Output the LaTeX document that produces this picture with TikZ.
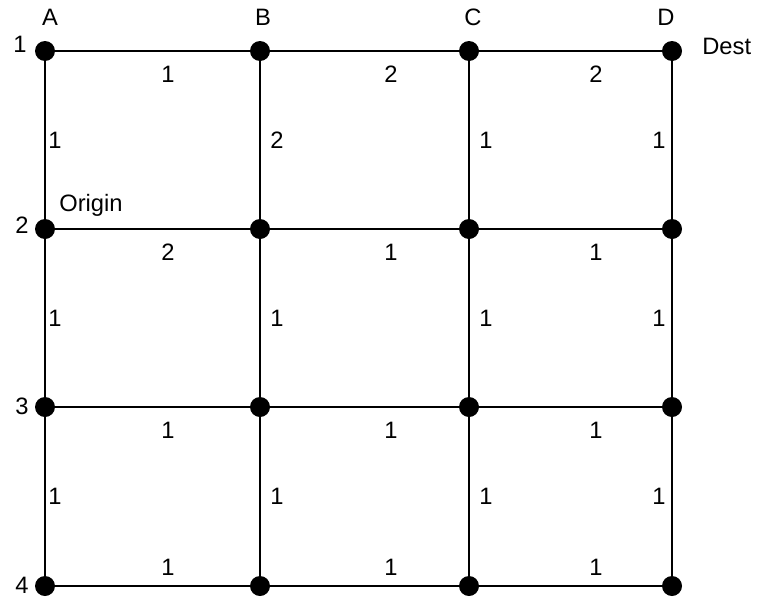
\documentclass[tikz,border=0pt]{standalone}
\usepackage{fontspec}
\setmainfont{Liberation Sans}
\usetikzlibrary{positioning}

\begin{document}
\begin{tikzpicture}[
    x=0.02cm, y=-0.02cm,
    font=\fontsize{13.5}{15}\selectfont,
    dot/.style={circle, fill=black, inner sep=0pt, minimum size=0.4cm},
    edge/.style={draw=black, line width=1.1pt},
    wb/.style={yshift=-0.46cm},
    wa/.style={yshift=0.38cm},
    wr/.style={xshift=0.34cm},
    wl/.style={xshift=-0.26cm},
    tag/.style={inner sep=0pt, anchor=base}
]
    \useasboundingbox (0,0) rectangle (757,599);

    \node [dot] (A1) at (45,51) {};
    \node [dot] (B1) at (260,51) {};
    \node [dot] (C1) at (469,51) {};
    \node [dot] (D1) at (672,51) {};
    \node [dot] (A2) at (45,229) {};
    \node [dot] (B2) at (260,229) {};
    \node [dot] (C2) at (469,229) {};
    \node [dot] (D2) at (672,229) {};
    \node [dot] (A3) at (45,407) {};
    \node [dot] (B3) at (260,407) {};
    \node [dot] (C3) at (469,407) {};
    \node [dot] (D3) at (672,407) {};
    \node [dot] (A4) at (45,586) {};
    \node [dot] (B4) at (260,586) {};
    \node [dot] (C4) at (469,586) {};
    \node [dot] (D4) at (672,586) {};

    \node [tag] (colA) at (50,25) {A};
    \node [tag] (colB) at (263,25) {B};
    \node [tag] (colC) at (473,25) {C};
    \node [tag] (colD) at (666,25) {D};
    \node [tag] (row1) at (20,52) {1};
    \node [tag] (row2) at (22,233) {2};
    \node [tag] (row3) at (22,414) {3};
    \node [tag] (row4) at (22,593) {4};
    \node [tag, anchor=base west] (dest) at (702,54) {Dest};
    \node [tag, anchor=base west] (origin) at (59,211) {Origin};

    \path [edge] (A1) -- node[pos=0.58, wb] {1} (B1);
    \path [edge] (B1) -- node[pos=0.64, wb] {2} (C1);
    \path [edge] (C1) -- node[pos=0.64, wb] {2} (D1);
    \path [edge] (A2) -- node[pos=0.58, wb] {2} (B2);
    \path [edge] (B2) -- node[pos=0.64, wb] {1} (C2);
    \path [edge] (C2) -- node[pos=0.64, wb] {1} (D2);
    \path [edge] (A3) -- node[pos=0.58, wb] {1} (B3);
    \path [edge] (B3) -- node[pos=0.64, wb] {1} (C3);
    \path [edge] (C3) -- node[pos=0.64, wb] {1} (D3);
    \path [edge] (A4) -- node[pos=0.58, wa] {1} (B4);
    \path [edge] (B4) -- node[pos=0.64, wa] {1} (C4);
    \path [edge] (C4) -- node[pos=0.64, wa] {1} (D4);

    \path [edge] (A1) -- node[xshift=0.2cm] {1} (A2);
    \path [edge] (A2) -- node[xshift=0.2cm] {1} (A3);
    \path [edge] (A3) -- node[xshift=0.2cm] {1} (A4);
    \path [edge] (B1) -- node[wr] {2} (B2);
    \path [edge] (B2) -- node[wr] {1} (B3);
    \path [edge] (B3) -- node[wr] {1} (B4);
    \path [edge] (C1) -- node[wr] {1} (C2);
    \path [edge] (C2) -- node[wr] {1} (C3);
    \path [edge] (C3) -- node[wr] {1} (C4);
    \path [edge] (D1) -- node[wl] {1} (D2);
    \path [edge] (D2) -- node[wl] {1} (D3);
    \path [edge] (D3) -- node[wl] {1} (D4);

\end{tikzpicture}
\end{document}
